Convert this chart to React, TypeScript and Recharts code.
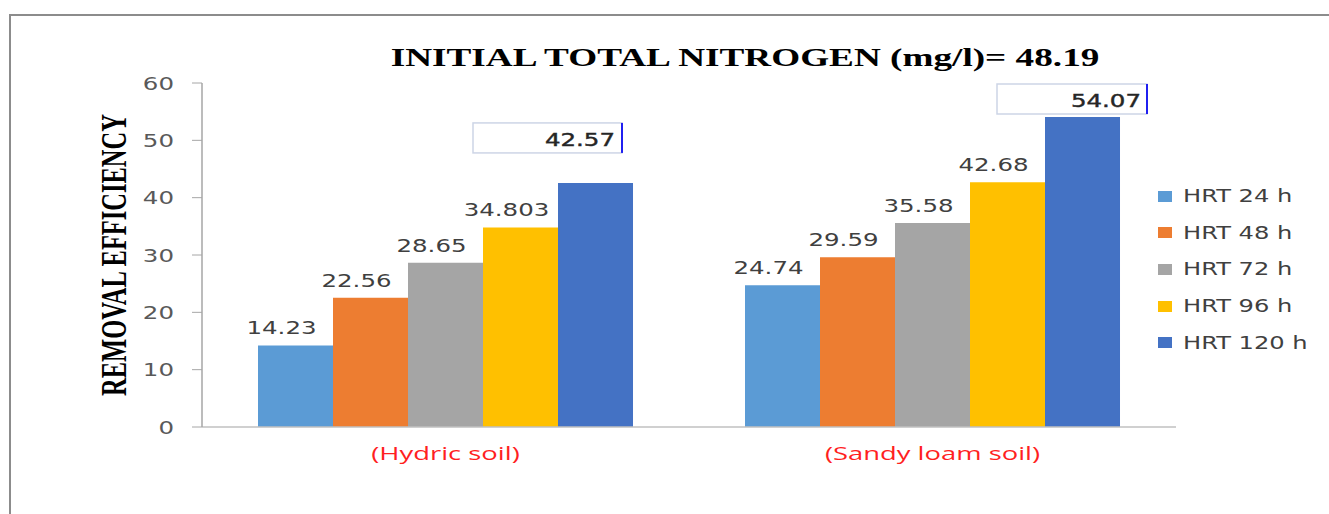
import React from 'react';
import { BarChart, Bar, XAxis, YAxis, Legend, LabelList, Label } from 'recharts';

const categories = ['(Hydric soil)', '(Sandy loam soil)'];
const seriesNames = ['HRT 24 h', 'HRT 48 h', 'HRT 72 h', 'HRT 96 h', 'HRT 120 h'];
const hrt24 = [14.23, 24.74];
const hrt48 = [22.56, 29.59];
const hrt72 = [28.65, 35.58];
const hrt96 = [34.803, 42.68];
const hrt120 = [42.57, 54.07];
const yTicks = [0, 10, 20, 30, 40, 50, 60];
const boundaryTicks = [0, 1, 2];
const colors = ['#5B9BD5', '#ED7D31', '#A5A5A5', '#FFC000', '#4472C4'];
const title = 'INITIAL TOTAL NITROGEN\u00A0(mg/l)= 48.19';
const yLabel = 'REMOVAL EFFICIENCY';

const seriesValues = [hrt24, hrt48, hrt72, hrt96, hrt120];
const data = categories.map((c, i) => {
  const row: any = { cat: c };
  seriesValues.forEach((s, k) => (row['s' + k] = s[i]));
  return row;
});

const SANS = 'DejaVu Sans';
const SX = 1.4;

function SText(props: any) {
  const { x, y, sx = SX, anchor = 'middle', children, ...rest } = props;
  return (
    <g transform={`translate(${x},${y}) scale(${sx},1)`}>
      <text x={0} y={0} textAnchor={anchor} {...rest}>
        {children}
      </text>
    </g>
  );
}

const YTick = (props: any) => {
  const { x, y, payload } = props;
  return (
    <SText x={x} y={y + 6.5} anchor="end" fontFamily={SANS} fontSize={17.5} fill="#595959">
      {payload.value}
    </SText>
  );
};

const XTick = (props: any) => {
  const { x, payload } = props;
  return (
    <SText x={x} y={460} sx={1.48} anchor="middle" fontFamily="Open Sans" fontSize={18.5} fill="#FF1F1F">
      {payload.value}
    </SText>
  );
};

const boxOffsets = [
  { l: -85, r: 64, t: -60, b: -30, tx: 57, ty: -37 },
  { l: -48, r: 102, t: -33, b: -3, tx: 96, ty: -10 },
];

const makeLabel = (boxed: boolean) => (props: any) => {
  const { x, y, width, value, index } = props;
  if (boxed) {
    const o = boxOffsets[index];
    return (
      <g>
        <rect x={x + o.l} y={y + o.t} width={o.r - o.l} height={o.b - o.t} fill="#fff" stroke="#CDD5E6" strokeWidth={1.5} />
        <line x1={x + o.r} y1={y + o.t} x2={x + o.r} y2={y + o.b} stroke="#2020F0" strokeWidth={2} />
        <SText x={x + o.tx} y={y + o.ty} anchor="end" fontFamily={SANS} fontSize={17.5} fill="#262626" stroke="#262626" strokeWidth={0.4}>
          {value}
        </SText>
      </g>
    );
  }
  return (
    <SText x={x + width / 2 - 14} y={y - 11} anchor="middle" fontFamily={SANS} fontSize={17.5} fill="#404040">
      {value}
    </SText>
  );
};

const YLabel = (props: any) => {
  const { viewBox } = props;
  const cx = viewBox.x + 126;
  const cy = viewBox.y + viewBox.height / 2;
  return (
    <g transform={`translate(${cx},${cy}) rotate(-90) scale(0.7,1)`}>
      <text x={0} y={0} textAnchor="middle" fontFamily="Liberation Serif" fontWeight="bold" fontSize={35} fill="#000">
        {yLabel}
      </text>
    </g>
  );
};

const renderLegend = () => (
  <div style={{ display: 'flex', flexDirection: 'column' }}>
    {seriesNames.map((n, i) => (
      <div key={n} style={{ height: 36.6, display: 'flex', alignItems: 'center' }}>
        <span style={{ width: 14, height: 11, background: colors[i], marginRight: 11, display: 'inline-block' }} />
        <span
          style={{
            fontFamily: SANS,
            fontSize: 17,
            color: '#404040',
            transform: 'scaleX(1.42)',
            transformOrigin: 'left center',
            display: 'inline-block',
            whiteSpace: 'nowrap',
          }}
        >
          {n}
        </span>
      </div>
    ))}
  </div>
);

const TitleText = () => (
  <SText x={745} y={66} sx={1.46} anchor="middle" fontFamily="Liberation Serif" fontWeight="bold" fontSize={25.5} fill="#000">
    {title}
  </SText>
);

export default function App() {
  return (
    <div style={{ position: 'absolute', left: 0, top: 0, width: 1329, height: 514, background: '#fff' }}>
      <div
        style={{
          position: 'absolute',
          left: 9,
          top: 14,
          width: 1320,
          height: 500,
          borderTop: '2px solid #8c8c8c',
          borderLeft: '2px solid #8c8c8c',
          boxSizing: 'border-box',
        }}
      />
      <div style={{ position: 'absolute', left: 0, top: 0 }}>
        <BarChart
          width={1329}
          height={514}
          data={data}
          margin={{ top: 83, right: 153, bottom: 47, left: 0 }}
          barCategoryGap="11.5%"
          barGap={0}
        >
          <XAxis
            xAxisId="b"
            type="number"
            domain={[0, 2]}
            ticks={boundaryTicks}
            tick={() => <g />}
            tickSize={8}
            tickLine={{ stroke: '#A6A6A6' }}
            axisLine={false}
            height={0}
          />
          <XAxis
            dataKey="cat"
            height={40}
            tickLine={false}
            axisLine={{ stroke: '#C0C0C0', strokeWidth: 1.5 }}
            tick={<XTick />}
            interval={0}
          />
          <YAxis
            width={202}
            domain={[0, 60]}
            ticks={yTicks}
            tickSize={10}
            tickMargin={18}
            axisLine={{ stroke: '#A6A6A6', strokeWidth: 1.5 }}
            tickLine={{ stroke: '#A6A6A6' }}
            tick={<YTick />}
          >
            <Label content={<YLabel />} />
          </YAxis>
          <Legend
            layout="vertical"
            align="center"
            verticalAlign="middle"
            content={renderLegend}
            wrapperStyle={{ position: 'absolute', left: 1158, top: 178, width: 170 }}
          />
          {seriesNames.map((n, k) => (
            <Bar key={n} dataKey={'s' + k} name={n} fill={colors[k]} isAnimationActive={false}>
              <LabelList dataKey={'s' + k} content={makeLabel(k === 4)} />
            </Bar>
          ))}
          <TitleText />
        </BarChart>
      </div>
    </div>
  );
}
